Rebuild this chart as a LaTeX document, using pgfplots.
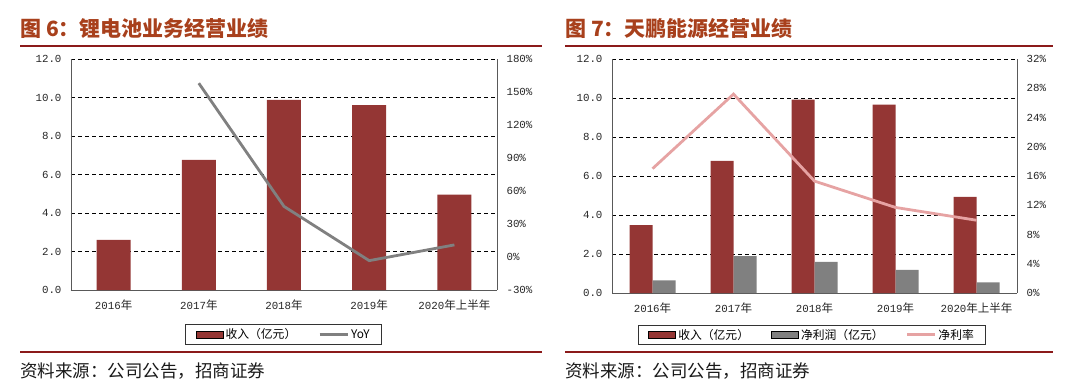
\documentclass[border=0pt]{standalone}
\usepackage{fontspec}
\usepackage{pgfplots}
\pgfplotsset{compat=1.18}
\setmainfont{Liberation Serif}
\setmonofont{Liberation Mono}
\newfontfamily\cjk{Noto Sans CJK SC}
\definecolor{barred}{HTML}{943634}
\definecolor{bargray}{HTML}{808080}
\definecolor{linegray}{HTML}{808080}
\definecolor{linepink}{HTML}{E6A3A3}
\definecolor{titlec}{HTML}{A8401C}
\definecolor{rulec}{HTML}{8B1A1A}
\newcommand\nian{{\cjk\fontsize{11.5}{12}\selectfont 年}}
\newcommand\shang{{\cjk\fontsize{11.5}{12}\selectfont 上半年}}
\pgfplotsset{
  base/.style={
    scale only axis,
    anchor=south west,
    xmin=-0.5, xmax=4.5,
    ymin=0, ymax=12,
    ytick={0,2,...,12},
    xtick={0,1,2,3,4},
    xticklabels={2016\nian,2017\nian,2018\nian,2019\nian,2020\nian\shang},
    axis x line=bottom, axis y line=left,
    axis line style={-, black!65, line width=0.9pt},
    major tick length=0pt,
    ymajorgrids,
    grid style={black, dash pattern=on 4pt off 3pt, line width=0.75pt},
    tick label style={font=\ttfamily\fontsize{10.8}{12}\selectfont, black!85},
    /pgf/number format/assume math mode=true,
    yticklabel style={/pgf/number format/.cd, fixed, fixed zerofill, precision=1, /tikz/.cd, xshift=-6pt},
    xticklabel style={yshift=-6pt},
  },
  sec/.style={
    scale only axis,
    anchor=south west,
    xmin=-0.5, xmax=4.5,
    axis x line=none, axis y line=right,
    axis line style={-, black!65, line width=0.9pt},
    major tick length=0pt,
    tick label style={font=\ttfamily\fontsize{10.8}{12}\selectfont, black!85},
    /pgf/number format/assume math mode=true,
    yticklabel={\pgfmathprintnumber{\tick}\%},
    yticklabel style={xshift=6pt},
    legend style={draw=black!80, line width=1pt, font=\cjk\fontsize{11.8}{13}\selectfont,
      legend columns=-1, anchor=center, inner xsep=10pt, inner ysep=2pt,
      /tikz/every even column/.append style={column sep=20pt}},
  },
  barlegend/.style={legend image code/.code={\fill[##1] (0pt,-3.5pt) rectangle (27pt,3.5pt);}},
  linelegend/.style={legend image code/.code={\draw[##1] (0pt,0pt) -- (28pt,0pt);}},
}
\begin{document}
\begin{tikzpicture}
\path[use as bounding box] (0,0) rectangle (1080pt,389pt);
% ---------- titles and rules
\node[anchor=west, inner sep=0pt, text=titlec, font=\cjk\bfseries\fontsize{21}{24}\selectfont] at (20pt,361pt) {图 6：锂电池业务经营业绩};
\node[anchor=west, inner sep=0pt, text=titlec, font=\cjk\bfseries\fontsize{21}{24}\selectfont] at (565pt,361pt) {图 7：天鹏能源经营业绩};
\draw[rulec, line width=2.5pt] (20pt,343pt) -- (542pt,343pt);
\draw[rulec, line width=2.5pt] (565pt,343pt) -- (1053pt,343pt);
\draw[rulec, line width=1.3pt] (20pt,37pt) -- (542pt,37pt);
\draw[rulec, line width=1.3pt] (565pt,37pt) -- (1053pt,37pt);
\node[anchor=west, inner sep=0pt, text=black!90, font=\cjk\fontsize{17.5}{20}\selectfont] at (20pt,18pt) {资料来源：公司公告，招商证券};
\node[anchor=west, inner sep=0pt, text=black!90, font=\cjk\fontsize{17.5}{20}\selectfont] at (565pt,18pt) {资料来源：公司公告，招商证券};
% ---------- left chart
\begin{axis}[base, at={(71pt,99pt)}, width=426pt, height=231pt]
\addplot[ybar, bar width=34pt, fill=barred, draw=none] coordinates {(0,2.6) (1,6.76) (2,9.88) (3,9.61) (4,4.96)};
\end{axis}
\begin{axis}[sec, at={(71pt,99pt)}, width=426pt, height=231pt,
  ymin=-30, ymax=180, ytick={-30,0,...,180},
  legend style={at={(0.499,-0.193)}}]
\addlegendimage{barlegend, fill=barred}
\addlegendentry{收入（亿元）}
\addplot[linegray, line width=2.8pt, linelegend] coordinates {(1,158) (2,46) (3,-3.3) (4,11)};
\addlegendentry{YoY}
\end{axis}
% ---------- right chart
\begin{axis}[base, at={(612pt,96pt)}, width=405pt, height=234pt]
\addplot[ybar, bar width=23pt, bar shift=-11.5pt, fill=barred, draw=none] coordinates {(0,3.48) (1,6.78) (2,9.92) (3,9.66) (4,4.93)};
\addplot[ybar, bar width=23pt, bar shift=11.5pt, fill=bargray, draw=none] coordinates {(0,0.65) (1,1.89) (2,1.59) (3,1.18) (4,0.55)};
\end{axis}
\begin{axis}[sec, at={(612pt,96pt)}, width=405pt, height=234pt,
  ymin=0, ymax=32, ytick={0,4,...,32},
  legend style={at={(0.494,-0.179)}}]
\addlegendimage{barlegend, fill=barred}
\addlegendentry{收入（亿元）}
\addlegendimage{barlegend, fill=bargray}
\addlegendentry{净利润（亿元）}
\addplot[linepink, line width=2.8pt, linelegend] coordinates {(0,17.0) (1,27.2) (2,15.3) (3,11.7) (4,9.95)};
\addlegendentry{净利率}
\end{axis}
\end{tikzpicture}
\end{document}
